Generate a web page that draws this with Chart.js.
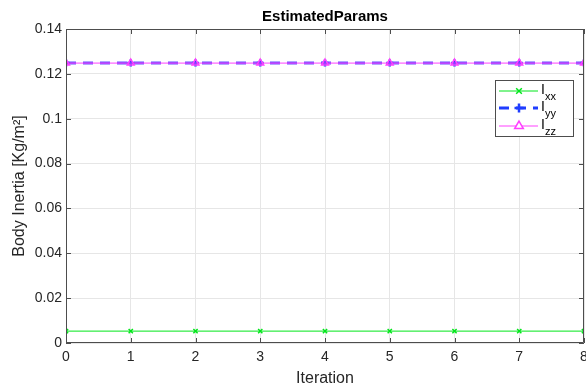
<!DOCTYPE html>
<html>
<head>
<meta charset="utf-8">
<script src="https://cdn.jsdelivr.net/npm/chart.js@4/dist/chart.umd.min.js"></script>
<style>
  html, body { margin: 0; padding: 0; background: #fff; }
  #wrap { width: 586px; height: 388px; position: relative; }
</style>
</head>
<body>
<div id="wrap"><canvas id="c" width="586" height="388"></canvas></div>
<script>
// Iterations and estimated inertia values per axis
const iterations = [0, 1, 2, 3, 4, 5, 6, 7, 8];
const Ixx = [0.0053, 0.0053, 0.0053, 0.0053, 0.0053, 0.0053, 0.0053, 0.0053, 0.0053];
const Iyy = [0.1248, 0.1248, 0.1248, 0.1248, 0.1248, 0.1248, 0.1248, 0.1248, 0.1248];
const Izz = [0.1248, 0.1248, 0.1248, 0.1248, 0.1248, 0.1248, 0.1248, 0.1248, 0.1248];
const xTicks = [0, 1, 2, 3, 4, 5, 6, 7, 8];
const yTicks = [0, 0.02, 0.04, 0.06, 0.08, 0.1, 0.12, 0.14];

const FONT = '"Liberation Sans", Arial, sans-serif';
const AXIS = '#262626';

function pts(ys) { return iterations.map((x, i) => ({ x: x, y: ys[i] })); }

// Box outline, inward tick marks and the legend with subscripted labels
const frame = {
  id: 'frame',
  afterDatasetsDraw(chart) {
    const { ctx, chartArea: a, scales: { x, y } } = chart;
    ctx.save();
    ctx.strokeStyle = '#4d4d4d';
    ctx.lineWidth = 1;
    ctx.beginPath();
    ctx.rect(a.left + 0.5, a.top + 0.5, a.right - a.left - 1, a.bottom - a.top - 1);
    ctx.stroke();
    ctx.beginPath();
    const tl = 5;
    xTicks.forEach(v => {
      const px = Math.round(x.getPixelForValue(v)) + 0.5;
      ctx.moveTo(px, a.bottom); ctx.lineTo(px, a.bottom - tl);
      ctx.moveTo(px, a.top); ctx.lineTo(px, a.top + tl);
    });
    yTicks.forEach(v => {
      const py = Math.round(y.getPixelForValue(v)) + 0.5;
      ctx.moveTo(a.left, py); ctx.lineTo(a.left + tl, py);
      ctx.moveTo(a.right, py); ctx.lineTo(a.right - tl, py);
    });
    ctx.stroke();

    // legend
    const bx = 495.5, by = 80.5, bw = 78, bh = 56;
    ctx.fillStyle = '#fff';
    ctx.fillRect(bx, by, bw, bh);
    ctx.strokeStyle = '#4d4d4d';
    ctx.strokeRect(bx, by, bw, bh);
    const rows = [
      { sub: 'xx', ds: 0, y: 91 },
      { sub: 'yy', ds: 1, y: 108 },
      { sub: 'zz', ds: 2, y: 126 }
    ];
    rows.forEach(r => {
      const d = chart.data.datasets[r.ds];
      ctx.save();
      ctx.strokeStyle = d.pointBorderColor;
      ctx.lineWidth = d.borderWidth;
      ctx.setLineDash(d.borderDash || []);
      ctx.beginPath();
      ctx.moveTo(499, r.y); ctx.lineTo(538, r.y);
      ctx.stroke();
      ctx.restore();
      ctx.save();
      ctx.strokeStyle = d.pointBorderColor;
      ctx.fillStyle = '#fff';
      ctx.lineWidth = d.pointBorderWidth;
      Chart.helpers.drawPoint(ctx, { pointStyle: d.pointStyle, radius: d.pointRadius + 1, borderWidth: d.pointBorderWidth }, 519, r.y);
      ctx.restore();
      ctx.fillStyle = '#000';
      ctx.font = '14px ' + FONT;
      ctx.textBaseline = 'middle';
      ctx.textAlign = 'left';
      ctx.fillText('I', 541, r.y - 1);
      ctx.font = '11px ' + FONT;
      ctx.fillText(r.sub, 545, r.y + 6);
    });
    ctx.restore();
  }
};

new Chart(document.getElementById('c'), {
  type: 'line',
  data: {
    datasets: [
      {
        label: 'Ixx', data: pts(Ixx), order: 2,
        borderColor: '#00e61a', backgroundColor: '#00e61a', borderWidth: 1,
        pointStyle: 'crossRot', pointRadius: 3, pointBorderColor: '#00e61a', pointBorderWidth: 1.5
      },
      {
        label: 'Iyy', data: pts(Iyy), order: 1,
        borderColor: '#6650ff', backgroundColor: '#1f3dff', borderWidth: 3, borderDash: [10, 7],
        pointStyle: 'cross', pointRadius: 3.5, pointBorderColor: '#1f3dff', pointBorderWidth: 2.5
      },
      {
        label: 'Izz', data: pts(Izz), order: 0,
        borderColor: '#ff40ff', backgroundColor: 'rgba(0,0,0,0)', borderWidth: 1,
        pointStyle: 'triangle', pointRadius: 4, pointBorderColor: '#ff40ff', pointBorderWidth: 1.5
      }
    ]
  },
  options: {
    responsive: false,
    animation: false,
    devicePixelRatio: 1,
    layout: { autoPadding: false, padding: { left: 0, right: 2, top: 0, bottom: 0 } },
    plugins: {
      legend: { display: false },
      tooltip: { enabled: false },
      title: {
        display: true, fullSize: false, text: 'EstimatedParams', color: '#000',
        font: { family: FONT, size: 15, weight: 'bold' },
        padding: { top: 8, bottom: 3 }
      }
    },
    scales: {
      x: {
        type: 'linear', min: 0, max: 8,
        afterBuildTicks: s => { s.ticks = xTicks.map(v => ({ value: v })); },
        afterFit: s => { s.height = 45; s.paddingRight = 0; s.paddingLeft = 0; },
        grid: { color: '#e6e6e6', drawTicks: false },
        border: { display: false },
        ticks: { color: AXIS, font: { family: FONT, size: 14 }, padding: 6, maxRotation: 0 },
        title: { display: true, text: 'Iteration', color: AXIS, font: { family: FONT, size: 16 }, padding: { top: 0, bottom: 0 } }
      },
      y: {
        min: 0, max: 0.14,
        afterBuildTicks: s => { s.ticks = yTicks.map(v => ({ value: v })); },
        afterFit: s => { s.width = 66; s.paddingTop = 0; s.paddingBottom = 0; },
        grid: { color: '#e6e6e6', drawTicks: false },
        border: { display: false },
        ticks: {
          color: AXIS, font: { family: FONT, size: 14 }, padding: 4,
          callback: v => String(Math.round(v * 100) / 100)
        },
        title: { display: true, text: 'Body Inertia [Kg/m²]', color: AXIS, font: { family: FONT, size: 16 }, padding: { top: 10, bottom: 0 } }
      }
    }
  },
  plugins: [frame]
});
</script>
</body>
</html>
